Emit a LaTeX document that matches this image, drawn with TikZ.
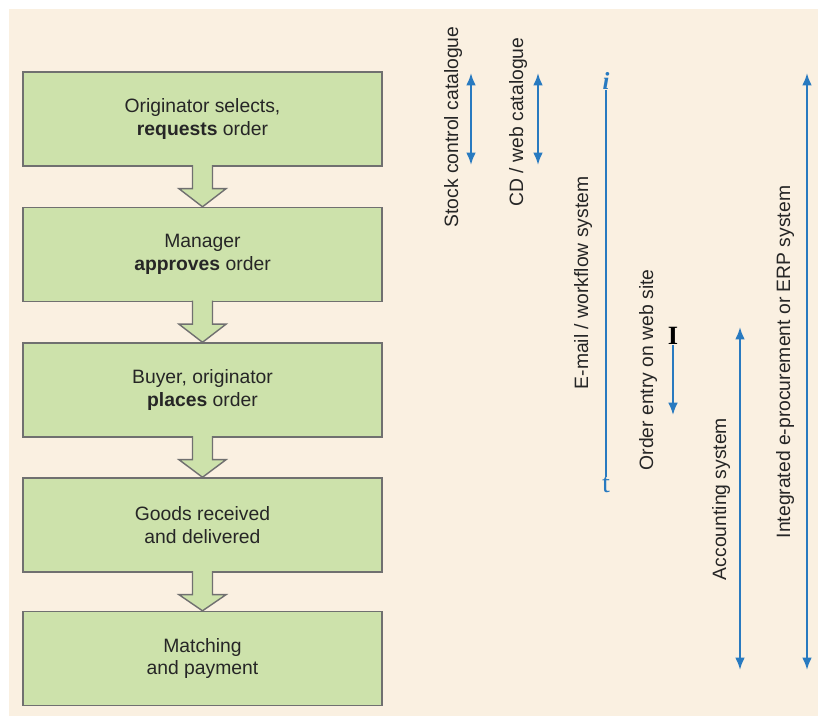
\documentclass[tikz,border=0pt]{standalone}
\usepackage{fontspec}
\setmainfont{Liberation Sans}
\newfontfamily\tipfont{Liberation Serif}
\usepackage{xcolor}
\usepackage{tikz}
\usetikzlibrary{arrows.meta, positioning, calc}

\definecolor{bgbeige}{RGB}{250,240,225}
\definecolor{stagegreen}{RGB}{205,226,171}
\definecolor{edgegray}{RGB}{112,112,112}
\definecolor{sysblue}{RGB}{40,122,192}

\begin{document}
\begin{tikzpicture}[>={Latex[length=7pt, width=5.5pt]}, every node/.style={font=\fontsize{11}{13}\selectfont}]
    \tikzstyle{stage}=[rectangle, draw=edgegray, line width=0.8pt, fill=stagegreen, minimum width=7.18cm, minimum height=1.88cm, align=center, text=black!85]
    \tikzstyle{handover}=[draw=edgegray, line width=0.8pt, fill=stagegreen, to path={($(\tikztostart.south)+(-0.2,0.03)$) -- ($(\tikztostart.south)+(-0.2,-0.44)$) -- ($(\tikztostart.south)+(-0.47,-0.44)$) -- (\tikztotarget.north) -- ($(\tikztostart.south)+(0.47,-0.44)$) -- ($(\tikztostart.south)+(0.2,-0.44)$) -- ($(\tikztostart.south)+(0.2,0.03)$)}]
    \tikzstyle{span}=[<->, sysblue, line width=1.2pt]
    \tikzstyle{syslabel}=[rotate=90, text=black!85, inner sep=0pt]
    \tikzstyle{tipmark}=[inner sep=0pt, font=\fontsize{16}{16}\selectfont\tipfont]

    \useasboundingbox (0,0) rectangle (16.36,14.32);
    \fill[bgbeige] (0.18,0) rectangle (16.36,14.14);

    \node[stage] (select) at (4.05, 11.94) {Originator selects,\\\textbf{requests} order};
    \node[stage] (approve) at (4.05, 9.23) {Manager\\\textbf{approves} order};
    \node[stage] (place) at (4.05, 6.52) {Buyer, originator\\\textbf{places} order};
    \node[stage] (receive) at (4.05, 3.82) {Goods received\\and delivered};
    \node[stage] (pay) at (4.05, 1.15) {Matching\\and payment};

    \draw[handover] (select) to (approve);
    \draw[handover] (approve) to (place);
    \draw[handover] (place) to (receive);
    \draw[handover] (receive) to (pay);

    \node[syslabel] (stocklbl) at (9.06, 11.78) {Stock control catalogue};
    \node[syslabel] (weblbl) at (10.36, 11.88) {CD / web catalogue};
    \node[syslabel] (maillbl) at (11.66, 8.66) {E-mail / workflow system};
    \node[syslabel] (entrylbl) at (12.96, 6.92) {Order entry on web site};
    \node[syslabel] (acctlbl) at (14.42, 4.34) {Accounting system};
    \node[syslabel] (erplbl) at (15.70, 7.08) {Integrated e-procurement or ERP system};

    \coordinate (stocktop) at (9.42, 12.86);
    \coordinate (stockend) at (9.42, 11.02);
    \coordinate (webtop) at (10.76, 12.86);
    \coordinate (webend) at (10.76, 11.02);
    \coordinate (accttop) at (14.80, 7.78);
    \coordinate (acctend) at (14.80, 0.92);
    \coordinate (erptop) at (16.14, 12.86);
    \coordinate (erpend) at (16.14, 0.92);
    \coordinate (entryend) at (13.46, 6.02);

    \node[tipmark, text=sysblue, font=\fontsize{14}{14}\selectfont\tipfont\bfseries\itshape] (mailtop) at (12.12, 12.70) {i};
    \node[tipmark, text=sysblue] (mailend) at (12.12, 4.62) {t};
    \node[tipmark, font=\fontsize{15}{15}\selectfont\tipfont\bfseries] (entrytop) at (13.46, 7.60) {I};

    \draw[span] (stocktop) -- (stockend);
    \draw[span] (webtop) -- (webend);
    \draw[sysblue, line width=1.2pt] (mailtop.south) -- (mailend.north);
    \draw[->, sysblue, line width=1pt] (entrytop.south) -- (entryend);
    \draw[span] (accttop) -- (acctend);
    \draw[span] (erptop) -- (erpend);
\end{tikzpicture}
\end{document}
